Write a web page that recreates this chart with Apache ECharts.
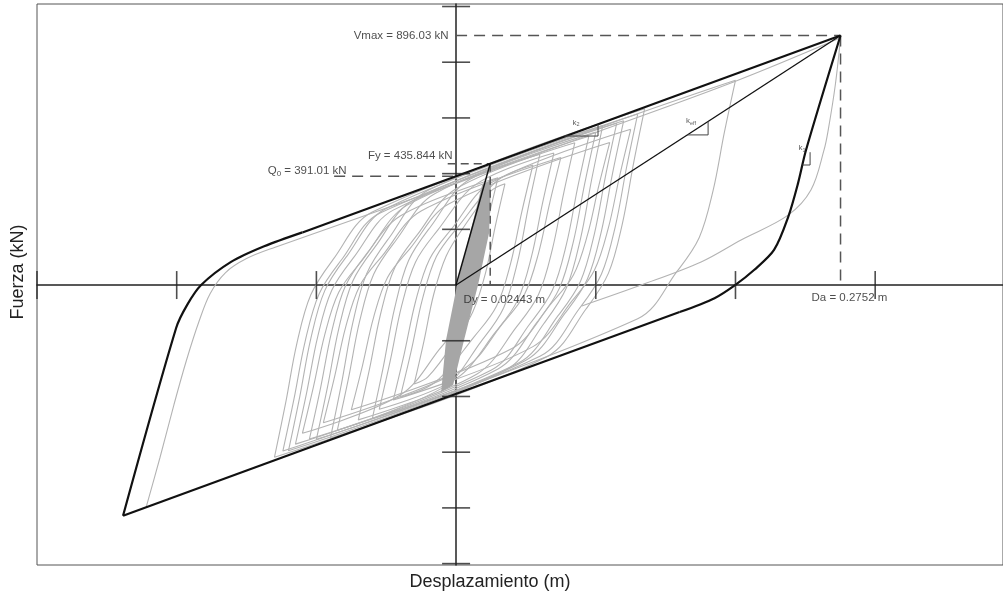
<!DOCTYPE html>
<html>
<head>
<meta charset="utf-8">
<title>Fuerza - Desplazamiento</title>
<script src="https://cdn.jsdelivr.net/npm/echarts@6/dist/echarts.min.js"></script>
<style>
  html, body { margin: 0; padding: 0; background: #fff; }
  #chart { width: 1003px; height: 596px; }
</style>
</head>
<body>
<div id="chart"></div>
<script>
// ticks (no labels in the original, only crosses on the axes)
const xTicks = [-0.3, -0.2, -0.1, 0.1, 0.2, 0.3]
const yTicks = [-1000, -800, -600, -400, -200, 200, 400, 600, 800, 1000]

// key values of the bilinear model
const Vmax = [0.2752, 896.03]
const Fy = [0.02443, 435.844]
const Q0 = 391.01

// bilinear envelope (black), split in straight and curved parts
const envRight = [[0.2752, 896.03], [0.2505, 485], [0.2448, 366], [0.2377, 244], [0.2276, 126],
  [0.2133, 54], [0.1997, 0], [0.185, -47], [0.16, -97]]
const envLower = [[0.16, -97], [-0.2384, -828]]
const envLeft = [[-0.2384, -828], [-0.2004, -154], [-0.1926, -72], [-0.1825, 0], [-0.1611, 83],
  [-0.1374, 139], [-0.11, 189]]
const envUpper = [[-0.11, 189], [0.2752, 896.03]]

// hysteresis loops (grey)
const loopOuter = [[-0.222, -800], [-0.212, -620], [-0.202, -430], [-0.193, -270], [-0.184, -130],
  [-0.176, -30], [-0.165, 45], [-0.15, 95], [-0.13, 135], [0, 365], [0.1, 548], [0.2, 732],
  [0.2752, 888], [0.2715, 720], [0.2665, 560], [0.2634, 485], [0.254, 341], [0.2377, 251],
  [0.204, 162], [0.1754, 83], [0.1324, 0], [0.09, -75]]
const loopTall = [[0.2, 735], [0.192, 547], [0.184, 340], [0.174, 170], [0.158, 48], [0.13, -121],
  [-0.124, -596], [-0.116, -408], [-0.108, -201], [-0.098, -31], [-0.082, 91], [-0.054, 260], [0.2, 735]]
const loop3 = [[0.13, 614], [0.122, 422], [0.114, 211], [0.104, 39], [0.088, -86], [0.06, -256],
  [-0.12, -595], [-0.112, -403], [-0.104, -192], [-0.094, -20], [-0.078, 105], [-0.05, 275], [0.13, 614]]
const loop4 = [[0.115, 581], [0.107, 392], [0.099, 184], [0.089, 13], [0.073, -110], [0.045, -279],
  [-0.1, -554], [-0.092, -365], [-0.084, -157], [-0.074, 14], [-0.058, 137], [-0.03, 306], [0.115, 581]]
const loop5 = [[0.1, 549], [0.092, 362], [0.084, 157], [0.074, -11], [0.058, -133], [0.03, -301],
  [-0.085, -521], [-0.077, -334], [-0.069, -129], [-0.059, 39], [-0.043, 161], [-0.015, 329], [0.1, 549]]
const loop6 = [[0.085, 511], [0.077, 329], [0.069, 130], [0.059, -34], [0.043, -152], [0.015, -319],
  [-0.07, -484], [-0.062, -302], [-0.054, -103], [-0.044, 61], [-0.028, 179], [0, 346], [0.085, 511]]
const loop7 = [[0.07, 474], [0.062, 297], [0.054, 103], [0.044, -55], [0.028, -170], [0, -336],
  [-0.055, -446], [-0.047, -269], [-0.039, -75], [-0.029, 83], [-0.013, 198], [0.015, 364], [0.07, 474]]
const loop8 = [[0.055, 431], [0.047, 262], [0.039, 77], [0.029, -75], [0.013, -185], [-0.015, -349],
  [-0.04, -403], [-0.032, -234], [-0.024, -49], [-0.014, 103], [0.002, 213], [0.03, 377], [0.055, 431]]
const loop9 = [[0.06, 470], [0.052, 286], [0.044, 83], [0.034, -82], [0.018, -202], [-0.01, -370],
  [-0.105, -553], [-0.097, -369], [-0.089, -166], [-0.079, -1], [-0.063, 119], [-0.035, 287], [0.06, 470]]
const loop10 = [[0.12, 590], [0.112, 401], [0.104, 193], [0.094, 22], [0.078, -101], [0.05, -270],
  [-0.06, -480], [-0.052, -291], [-0.044, -83], [-0.034, 88], [-0.018, 211], [0.01, 380], [0.12, 590]]
const loop11 = [[0.035, 364], [0.028, 210], [0.021, 42], [0.012, -96], [0, -196], [-0.02, -329],
  [-0.03, -355], [-0.023, -201], [-0.016, -33], [-0.007, 105], [0.005, 205], [0.025, 338], [0.035, 364]]
const loop12 = [[0.135, 633], [0.127, 436], [0.119, 220], [0.109, 42], [0.093, -86], [0.065, -257],
  [-0.09, -550], [-0.082, -353], [-0.074, -137], [-0.064, 41], [-0.048, 169], [-0.02, 340], [0.135, 633]]
const loop13 = [[0.095, 534], [0.087, 350], [0.079, 147], [0.069, -18], [0.053, -138], [0.025, -306],
  [-0.115, -571], [-0.107, -387], [-0.099, -184], [-0.089, -19], [-0.073, 101], [-0.045, 269], [0.095, 534]]
const loop14 = [[0.105, 573], [0.097, 378], [0.089, 165], [0.079, -10], [0.063, -137], [0.035, -307],
  [-0.13, -618], [-0.122, -423], [-0.114, -210], [-0.104, -35], [-0.088, 92], [-0.06, 262], [0.105, 573]]
const loop15 = [[0.11, 512], [0.102, 353], [0.094, 179], [0.084, 36], [0.068, -67], [0.04, -228],
  [-0.075, -448], [-0.067, -289], [-0.059, -115], [-0.049, 28], [-0.033, 131], [-0.005, 292], [0.11, 512]]
const loop16 = [[0.075, 458], [0.067, 294], [0.059, 114], [0.049, -33], [0.033, -140], [0.005, -302],
  [-0.095, -494], [-0.087, -330], [-0.079, -150], [-0.069, -3], [-0.053, 104], [-0.025, 266], [0.075, 458]]
const loop17 = [[0.125, 559], [0.117, 390], [0.109, 205], [0.099, 53], [0.083, -57], [0.055, -221],
  [-0.045, -413], [-0.037, -244], [-0.029, -59], [-0.019, 93], [-0.003, 203], [0.025, 367], [0.125, 559]]
const loop18 = [[0.03, 385], [0.022, 216], [0.014, 31], [0.004, -121], [-0.012, -231], [-0.04, -395],
  [-0.11, -532], [-0.102, -363], [-0.094, -178], [-0.084, -26], [-0.068, 84], [-0.04, 248], [0.03, 385]]

// dense band of small cycles around the elastic branch
const denseBand = [[0.0251, 377], [0.0236, 187], [0.0157, 0], [0.0057, -197], [-0.0021, -359],
  [-0.0107, -384], [-0.0072, -197], [0.0007, 0], [0.01, 187], [0.0186, 359]]

// slope markers
const k2Tri = [[0.0777, 535], [0.1016, 535], [0.1016, 577]]
const keffTri = [[0.1654, 539], [0.1804, 539], [0.1804, 587]]
const k1Tri = [[0.2479, 431], [0.2534, 431], [0.2534, 477]]

const FONT = '"Liberation Sans", Arial, sans-serif'
const grayLoops = [loopOuter, loopTall, loop3, loop4, loop5, loop6, loop7, loop8, loop9,
  loop10, loop11, loop12, loop13, loop14, loop15, loop16, loop17, loop18]

function lineSeries(data, color, width, extra) {
  return Object.assign({
    type: 'line', data: data, symbol: 'none', silent: true, animation: false,
    lineStyle: { color: color, width: width }
  }, extra)
}

function dashed(data, pattern) {
  return lineSeries(data, '#555', 1.5, { z: 3, lineStyle: { color: '#555', width: 1.5, type: pattern } })
}

function note(point, text, label) {
  return {
    type: 'scatter', data: [point], symbolSize: 1, silent: true, z: 10,
    itemStyle: { color: 'rgba(0,0,0,0)' },
    label: Object.assign({
      show: true, formatter: text, color: '#222', fontSize: 11.5, fontFamily: FONT,
      rich: {
        s: { fontSize: 8, fontFamily: FONT, color: '#222', padding: [5, 0, 0, 0] },
        k: { fontSize: 8, fontFamily: FONT, color: '#333' },
        ks: { fontSize: 5.5, fontFamily: FONT, color: '#333', padding: [4, 0, 0, 0] }
      }
    }, label)
  }
}

const series = []
grayLoops.forEach(function (loop) {
  series.push(lineSeries(loop, '#b3b3b3', 1.1, { smooth: 0.35, z: 1 }))
})
series.push({
  type: 'custom', silent: true, z: 2, data: [[0, 0]],
  renderItem: function (params, api) {
    return {
      type: 'polygon',
      shape: { points: denseBand.map(function (p) { return api.coord(p) }) },
      style: { fill: '#a6a6a6' }
    }
  }
})

series.push(
  dashed([[0, Vmax[1]], Vmax], [11, 7]),
  dashed([Vmax, [Vmax[0], 0]], [11, 7]),
  dashed([[-0.0873, Q0], [0, Q0]], [11, 7]),
  dashed([[-0.006, Fy[1]], Fy], [8, 5]),
  dashed([Fy, [Fy[0], 0]], [8, 5]),
  lineSeries(envRight, '#111', 2.2, { z: 4, smooth: 0.3 }),
  lineSeries(envLower, '#111', 2.2, { z: 4 }),
  lineSeries(envLeft, '#111', 2.2, { z: 4, smooth: 0.3 }),
  lineSeries(envUpper, '#111', 2.2, { z: 4 }),
  lineSeries([[0, 0], Fy], '#111', 1.5, { z: 4 }),
  lineSeries([[0, 0], Vmax], '#111', 1.3, { z: 4 }),
  lineSeries(k2Tri, '#444', 1, { z: 4 }),
  lineSeries(keffTri, '#444', 1, { z: 4 }),
  lineSeries(k1Tri, '#444', 1, { z: 4 }),
  {
    type: 'scatter', silent: true, z: 5, symbol: 'rect', symbolSize: [1.6, 28],
    itemStyle: { color: '#222' }, data: xTicks.map(function (v) { return [v, 0] })
  },
  {
    type: 'scatter', silent: true, z: 5, symbol: 'rect', symbolSize: [28, 1.6],
    itemStyle: { color: '#222' }, data: yTicks.map(function (v) { return [0, v] })
  },
  note([0, Vmax[1]], 'Vmax = 896.03 kN', { position: 'left', distance: 7 }),
  note([0, Fy[1]], 'Fy = 435.844 kN', { position: 'left', distance: 3, offset: [0, -8] }),
  note([-0.078, Q0], 'Q{s|0} = 391.01 kN', { position: 'left', distance: 0, offset: [0, -5] }),
  note([0, 0], 'Dy = 0.02443 m', { position: 'right', distance: 7, offset: [0, 15] }),
  note([0.2541, 0], 'Da = 0.2752 m', { position: 'right', distance: 0, offset: [0, 13] }),
  note([0.0859, 582], '{k|k}{ks|2}', { position: 'inside' }),
  note([0.1682, 589], '{k|k}{ks|eff}', { position: 'inside' }),
  note([0.2477, 492], '{k|k}{ks|1}', { position: 'inside' })
)

const chart = echarts.init(document.getElementById('chart'), null, { renderer: 'canvas' })
chart.setOption({
  animation: false,
  backgroundColor: '#fff',
  grid: { left: 37, right: 0, top: 4, bottom: 31, show: true, borderColor: '#555', borderWidth: 1 },
  xAxis: {
    type: 'value', min: -0.3, max: 0.3915, interval: 0.1,
    axisLine: { onZero: true, lineStyle: { color: '#222', width: 1.5 } },
    axisTick: { show: false }, axisLabel: { show: false }, splitLine: { show: false }
  },
  yAxis: {
    type: 'value', min: -1005, max: 1009,
    axisLine: { onZero: true, lineStyle: { color: '#222', width: 1.5 } },
    axisTick: { show: false }, axisLabel: { show: false }, splitLine: { show: false }
  },
  graphic: [
    {
      type: 'text', x: 18, y: 272, rotation: Math.PI / 2,
      style: { text: 'Fuerza (kN)', font: '18px ' + FONT, fill: '#222', textAlign: 'center', textVerticalAlign: 'middle' }
    },
    {
      type: 'text', x: 490, y: 582,
      style: { text: 'Desplazamiento (m)', font: '18px ' + FONT, fill: '#222', textAlign: 'center', textVerticalAlign: 'middle' }
    }
  ],
  series: series
})
</script>
</body>
</html>
